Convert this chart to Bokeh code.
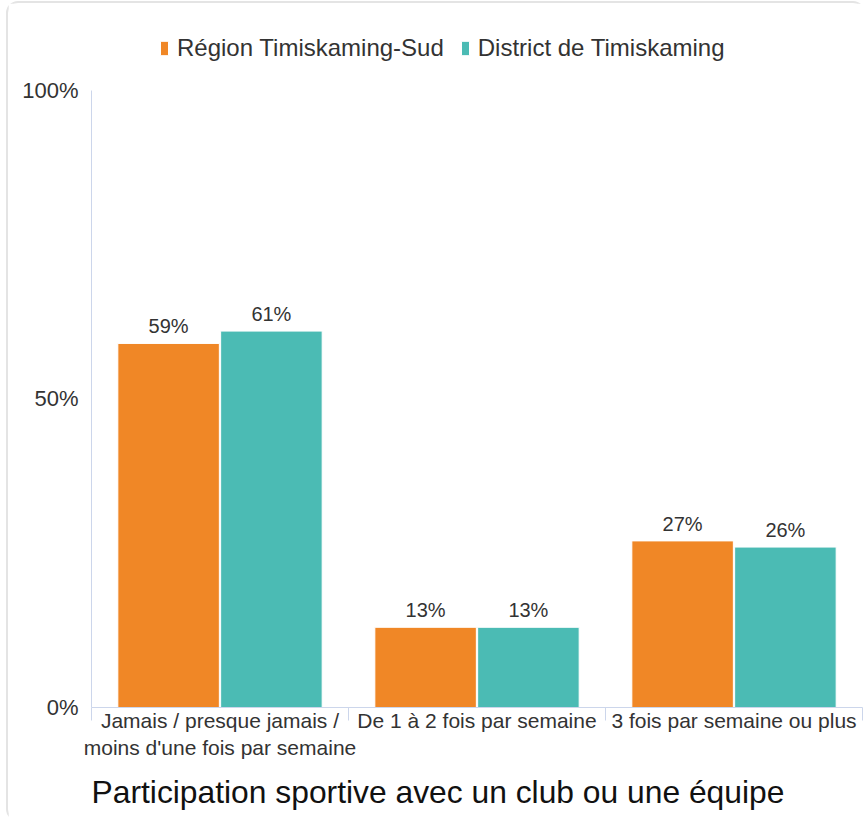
from bokeh.plotting import figure
from bokeh.models import (ColumnDataSource, FixedTicker, PrintfTickFormatter, Legend,
                          LegendItem, LabelSet, Title, Range1d)
from bokeh.core.properties import value
from bokeh.transform import dodge
from bokeh.embed import file_html
from bokeh.resources import INLINE

categories = ["Jamais / presque jamais /\nmoins d'une fois par semaine",
              "De 1 à 2 fois par semaine",
              "3 fois par semaine ou plus"]
series_names = ["Région Timiskaming-Sud", "District de Timiskaming"]
region_values = [59, 13, 27]
district_values = [61, 13, 26]
y_ticks = [0, 50, 100]
chart_title = "Participation sportive avec un club ou une équipe"

colors = ["#f08726", "#4bbbb4"]
FONT = "Liberation Sans"

pos = [i + 0.5 for i in range(len(categories))]
src = ColumnDataSource(dict(
    x=pos, region=region_values, district=district_values,
    region_lbl=[f"{v}%" for v in region_values],
    district_lbl=[f"{v}%" for v in district_values],
))

p = figure(width=855, height=816, output_backend="svg", toolbar_location=None,
           x_range=Range1d(0, len(categories)), y_range=Range1d(0, 110.2),
           min_border_left=83, min_border_top=24, min_border_right=1,
           min_border_bottom=0, min_border=0)
p.styles = {"margin": "3px 0 0 8px", "outline": "2px solid #e4e4e4",
            "outline-offset": "0px", "border-radius": "10px"}
p.outline_line_color = None
p.grid.visible = False
p.background_fill_color = "white"
p.border_fill_color = "white"

w = 0.395
r1 = p.vbar(x=dodge("x", -0.2, range=p.x_range), top="region", width=w, source=src,
            fill_color=colors[0], line_color="white", line_width=1)
r2 = p.vbar(x=dodge("x", 0.2, range=p.x_range), top="district", width=w, source=src,
            fill_color=colors[1], line_color="white", line_width=1)

for col, off in (("region", -0.2), ("district", 0.2)):
    p.add_layout(LabelSet(x=dodge("x", off, range=p.x_range), y=col, text=col + "_lbl",
                          source=src, text_align="center", text_baseline="alphabetic",
                          y_offset=10, text_font_size=value("20px"), text_color="#333333",
                          text_font=value(FONT)))

# x axis
xa = p.xaxis[0]
xa.ticker = FixedTicker(ticks=pos, minor_ticks=list(range(len(categories) + 1)))
xa.major_label_overrides = {p_: c for p_, c in zip(pos, categories)}
xa.major_tick_line_color = None
xa.major_tick_out = 0
xa.major_tick_in = 0
xa.minor_tick_line_color = "#ccd6eb"
xa.minor_tick_out = 13
xa.minor_tick_in = 0
xa.axis_line_color = "#ccd6eb"
xa.major_label_text_font_size = "21px"
xa.major_label_text_color = "#333333"
xa.major_label_text_font = FONT
xa.major_label_standoff = -12

ya = p.yaxis[0]
ya.ticker = FixedTicker(ticks=y_ticks, minor_ticks=[])
ya.formatter = PrintfTickFormatter(format="%d%%")
ya.bounds = (0, 100)
ya.major_tick_line_color = None
ya.major_tick_out = 0
ya.major_tick_in = 0
ya.minor_tick_line_color = None
ya.axis_line_color = "#ccd6eb"
ya.major_label_text_font_size = "22px"
ya.major_label_text_color = "#333333"
ya.major_label_text_font = FONT
ya.major_label_standoff = 13

legend = Legend(items=[LegendItem(label=series_names[0], renderers=[r1]),
                       LegendItem(label=series_names[1], renderers=[r2])],
                orientation="horizontal", location=(68, 645),
                label_text_font_size="24px", label_text_font=FONT, label_text_color="#333333",
                glyph_width=10, glyph_height=18, label_standoff=8, spacing=16,
                padding=0, margin=0, border_line_color=None, background_fill_alpha=0)
p.add_layout(legend, "center")

t = Title(text=chart_title, align="left", offset=0, text_font_size="31.8px",
          text_font=FONT, text_font_style="normal", text_color="#111111",
          standoff=19)
p.add_layout(t, "below")

open("out.html", "w").write(file_html(p, INLINE))
